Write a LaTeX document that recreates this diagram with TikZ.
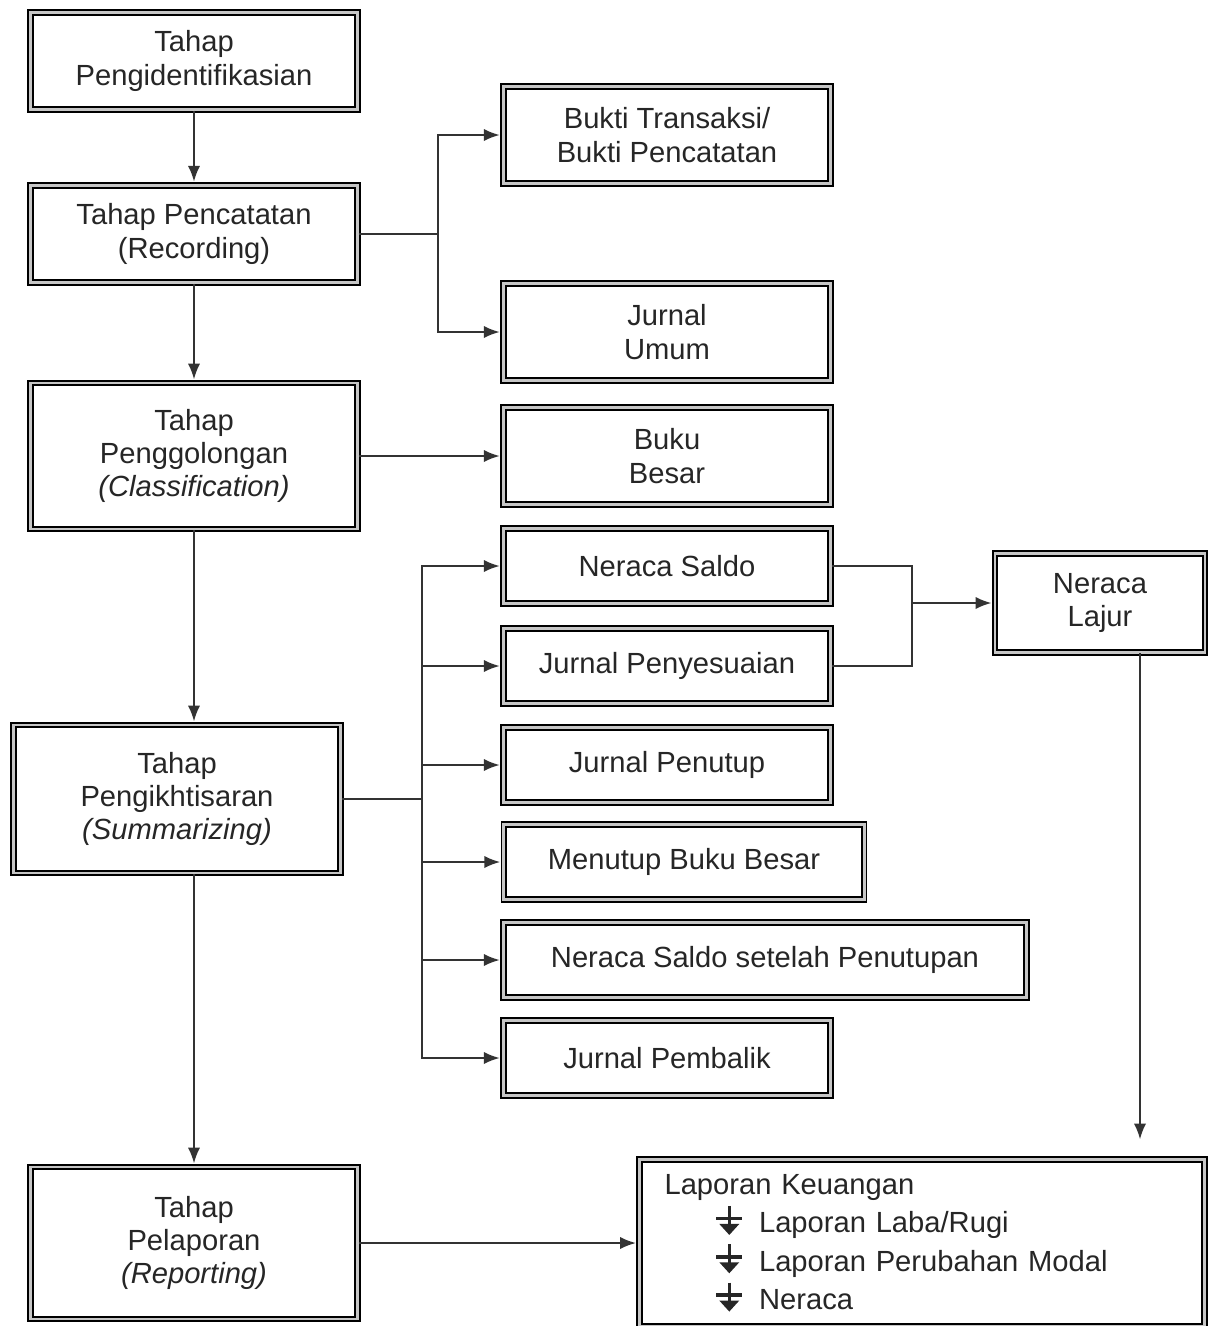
\documentclass[tikz,border=0pt]{standalone}
\usepackage{fontspec}
\setmainfont{Liberation Sans}
\usetikzlibrary{arrows.meta}
\newcommand{\dnbul}{\tikz[x=1cm,y=1cm,baseline=-0.5pt]{\draw[line width=2pt,black!85] (0.3,0.52)--(0.3,0.12);\draw[line width=2pt,black!85] (0.04,0.27)--(0.56,0.27);\fill[black!85] (0.1,0.16)--(0.5,0.16)--(0.3,-0.06)--cycle;}}
\begin{document}
\begin{tikzpicture}[x=0.02cm,y=-0.02cm,
  bx/.style={draw=black, double=gray!45, double distance=1.5pt, line width=1.1pt,
    fill=white, align=center, inner sep=2pt,
    font=\fontsize{16.6}{19}\selectfont, text=black!85},
  ln/.style={draw=black!80, line width=1.1pt},
  arr/.style={ln, -{Latex[length=9pt,width=7pt]}, shorten >=1.5pt}]
\useasboundingbox (0,0) rectangle (1210,1326);
\fill[white] (0,0) rectangle (1210,1326);
% left column
\node[bx, minimum width=6.55cm, minimum height=1.95cm] (n1) at (194,61) {Tahap\\Pengidentifikasian};
\node[bx, minimum width=6.55cm, minimum height=1.95cm] (n2) at (194,234) {Tahap Pencatatan\\(Recording)};
\node[bx, minimum width=6.55cm, minimum height=2.92cm] (n3) at (194,456) {Tahap\\Penggolongan\\\textit{(Classification)}};
\node[bx, minimum width=6.55cm, minimum height=2.96cm] (n4) at (177,799) {Tahap\\Pengikhtisaran\\\textit{(Summarizing)}};
\node[bx, minimum width=6.55cm, minimum height=3.04cm] (n5) at (194,1243) {Tahap\\Pelaporan\\\textit{(Reporting)}};
% middle column
\node[bx, minimum width=6.55cm, minimum height=1.95cm] (n6) at (667,135) {Bukti Transaksi/\\Bukti Pencatatan};
\node[bx, minimum width=6.55cm, minimum height=1.95cm] (n7) at (667,332) {Jurnal\\Umum};
\node[bx, minimum width=6.55cm, minimum height=1.95cm] (n8) at (667,456) {Buku\\Besar};
\node[bx, minimum width=6.55cm, minimum height=1.5cm] (n9) at (667,566) {Neraca Saldo};
\node[bx, minimum width=6.55cm, minimum height=1.5cm] (n10) at (667,666) {Jurnal Penyesuaian};
\node[bx, minimum width=6.55cm, minimum height=1.5cm] (n11) at (667,765) {Jurnal Penutup};
\node[bx, minimum width=7.21cm, minimum height=1.5cm] (n12) at (684,862) {Menutup Buku Besar};
\node[bx, minimum width=10.47cm, minimum height=1.5cm] (n13) at (765,960) {Neraca Saldo setelah Penutupan};
\node[bx, minimum width=6.55cm, minimum height=1.5cm] (n14) at (667,1058) {Jurnal Pembalik};
% right
\node[bx, minimum width=4.2cm, minimum height=1.98cm] (n15) at (1100,603) {Neraca\\Lajur};
\node[bx, minimum width=11.3cm, minimum height=3.34cm, text width=10.3cm, inner xsep=0.45cm, align=left,
  font=\fontsize{16.6}{21.8}\selectfont] (n16) at (922,1243)
  {Laporan Keuangan\\
   \hspace*{1.0cm}\dnbul\hspace{0.3cm}Laporan Laba/Rugi\\
   \hspace*{1.0cm}\dnbul\hspace{0.3cm}Laporan Perubahan Modal\\
   \hspace*{1.0cm}\dnbul\hspace{0.3cm}Neraca};
% connectors
\draw[arr] (n1.south) -- (n2.north);
\draw[arr] (n2.south) -- (n3.north);
\draw[arr] (n3.south) -- (n3.south |- n4.north);
\draw[arr] (n5.north |- n4.south) -- (n5.north);
\coordinate (j1) at (438,234);
\draw[ln] (n2.east) -- (j1);
\draw[arr] (j1) |- (n6.west);
\draw[arr] (j1) |- (n7.west);
\draw[arr] (n3.east) -- (n8.west);
\coordinate (j2) at (422,799);
\draw[ln] (n4.east) -- (j2);
\draw[arr] (j2) |- (n9.west);
\draw[arr] (j2) |- (n10.west);
\draw[arr] (j2) |- (n11.west);
\draw[arr] (j2) |- (n12.west);
\draw[arr] (j2) |- (n13.west);
\draw[arr] (j2) |- (n14.west);
\coordinate (j3) at (912,603);
\draw[ln] (n9.east) -| (j3);
\draw[ln] (n10.east) -| (j3);
\draw[arr] (j3) -- (n15.west);
\coordinate (e1) at (1140,1142);
\draw[arr] (n15.south -| e1) -- (e1);
\draw[arr] (n5.east) -- (n5.east -| n16.west);
\end{tikzpicture}
\end{document}
